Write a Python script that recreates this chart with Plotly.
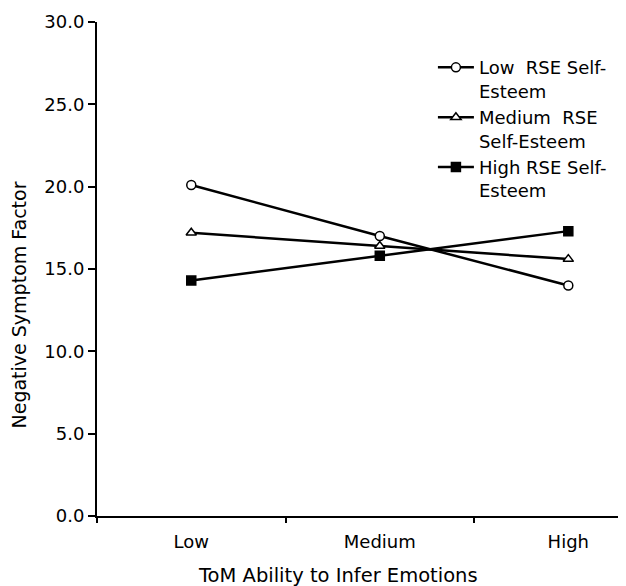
import plotly.graph_objects as go

categories = ["Low", "Medium", "High"]
low_rse = [20.1, 17.0, 14.0]
medium_rse = [17.2, 16.4, 15.6]
high_rse = [14.3, 15.8, 17.3]
series_names = ["Low  RSE Self-<br>Esteem", "Medium  RSE<br>Self-Esteem", "High RSE Self-<br>Esteem"]
y_ticks = [0, 5, 10, 15, 20, 25, 30]

FONT = "DejaVu Sans"
fig = go.Figure()
styles = [
    dict(symbol="circle", fill="white", size=9),
    dict(symbol="triangle-up", fill="white", size=9),
    dict(symbol="square", fill="black", size=9),
]
for name, vals, st in zip(series_names, [low_rse, medium_rse, high_rse], styles):
    fig.add_trace(go.Scatter(
        x=categories, y=vals, name=name, mode="lines+markers",
        line=dict(color="black", width=2.5),
        marker=dict(symbol=st["symbol"], size=st["size"], color=st["fill"],
                    line=dict(width=1.5, color="black")),
    ))

# page has 8px body margin; plot area in page pixels: x 97..626, y 22..516
fig.update_layout(
    width=618, height=578,
    margin=dict(l=89, r=0, t=14, b=70),
    paper_bgcolor="white", plot_bgcolor="white",
    font=dict(family=FONT, size=18, color="black"),
    showlegend=True,
    legend=dict(x=0.635, y=0.945, xanchor="left", yanchor="top", valign="top",
                bgcolor="rgba(0,0,0,0)", font=dict(size=18), tracegroupgap=0,
                itemwidth=36),
    xaxis=dict(
        type="category", range=[-0.5, 2.306],
        showline=True, linecolor="black", linewidth=2,
        ticks="outside", tickson="boundaries", ticklen=5, tickwidth=2, tickcolor="black",
        showgrid=False, zeroline=False, ticklabelstandoff=8,
    ),
    yaxis=dict(
        range=[0, 30], tickvals=y_ticks, tickformat=".1f",
        showline=True, linecolor="black", linewidth=2,
        ticks="outside", ticklen=7, tickwidth=2, tickcolor="black",
        showgrid=False, zeroline=False,
    ),
    annotations=[
        dict(text="ToM Ability to Infer Emotions", xref="paper", yref="paper",
             x=(338 - 97) / 529, y=-(575 - 516) / 494, xanchor="center", yanchor="middle",
             showarrow=False, font=dict(size=19.5)),
        dict(text="Negative Symptom Factor", xref="paper", yref="paper",
             x=-(97 - 18.5) / 529, y=(516 - 305) / 494, xanchor="center", yanchor="middle",
             textangle=-90, showarrow=False, font=dict(size=19)),
    ],
)

fig.write_html("out.html")
